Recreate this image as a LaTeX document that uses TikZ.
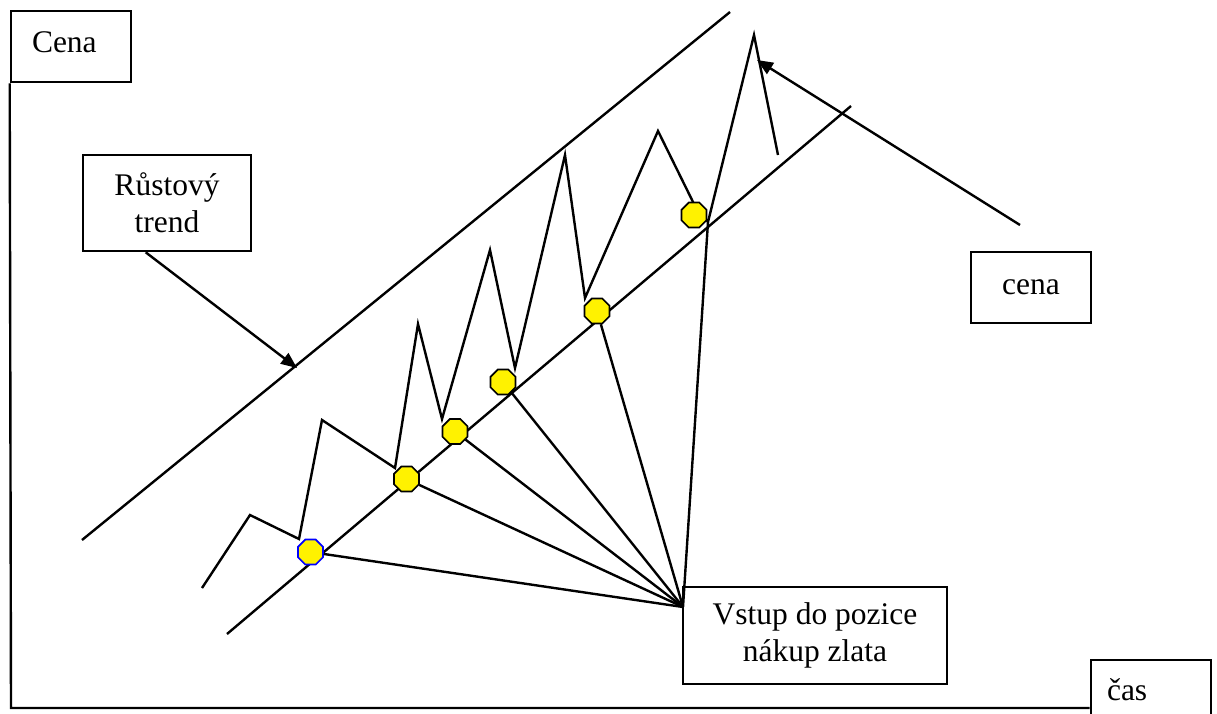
\documentclass[tikz,border=0pt]{standalone}
\usepackage{fontspec}
\setmainfont{Liberation Serif}
\usetikzlibrary{shapes.geometric,arrows.meta}

\begin{document}
\begin{tikzpicture}[x=1pt,y=-1pt,
  every node/.style={font=\fontsize{31.5}{37}\selectfont},
  line/.style={line width=2.4pt, line join=miter},
  tag/.style={draw, line width=2.6pt, rectangle, inner sep=0pt, align=center},
  pointer/.style={line, -{Triangle[length=16pt,width=13pt]}},
  buy/.style={regular polygon, regular polygon sides=8, minimum size=27pt,
    inner sep=0pt, fill=yellow, draw=black, line width=1.6pt},
]
\useasboundingbox (0,0) rectangle (1217,713);

% text boxes
\node[tag, minimum width=120, minimum height=71, text width=78, inner xsep=21,
  align=left, text height=21, text depth=10] (cena) at (71,46.5) {Cena};
\node[tag, minimum width=168, minimum height=96] (trend) at (167,203) {Růstový\\trend};
\node[tag, minimum width=264, minimum height=97] (entry) at (815,635.5) {Vstup do pozice\\nákup zlata};
\node[tag, minimum width=120, minimum height=71] (price) at (1031,287.5) {cena};
\node[tag, minimum width=120, minimum height=71, text width=88, inner xsep=16,
  align=left, text height=22, text depth=13] (cas) at (1151,695.5) {čas};

% axes
\coordinate (origin) at (11,708);
\draw[line] (cena.south west) -- (origin) -- (origin -| cas.west);

% channel boundaries
\draw[line] (82,540) -- (730,12);
\draw[line] (227,634) -- (851,106);

% price path
\coordinate (turn) at (708,222);
\draw[line] (202,588) -- (250,515) -- (299,539) -- (322,420) -- (395,468)
  -- (418,324) -- (442,419) -- (490,250) -- (515,368) -- (565,155)
  -- (585,298) -- (658,131) -- (694,204) -- (turn) -- (754,35) -- (778,155);

% entry points
\node[buy, draw=blue] (b1) at (310.5,552) {};
\node[buy] (b2) at (406.5,479) {};
\node[buy] (b3) at (455,431.5) {};
\node[buy] (b4) at (503,382) {};
\node[buy] (b5) at (597,311) {};
\node[buy] (b6) at (694,215) {};

% fan from the entry label
\coordinate (hub) at (683,607);
\foreach \b in {b1,b2,b3,b4,b5} \draw[line] (hub) -- (\b);
\draw[line] (hub) -- (turn);

% pointers
\coordinate (trendTip) at (297,368);
\draw[pointer] ([xshift=64pt]trend.south west) -- (trendTip);
\coordinate (cenaTail) at (1020,225);
\coordinate (peakTip) at (757,60);
\draw[pointer] (cenaTail) -- (peakTip);
\end{tikzpicture}
\end{document}
